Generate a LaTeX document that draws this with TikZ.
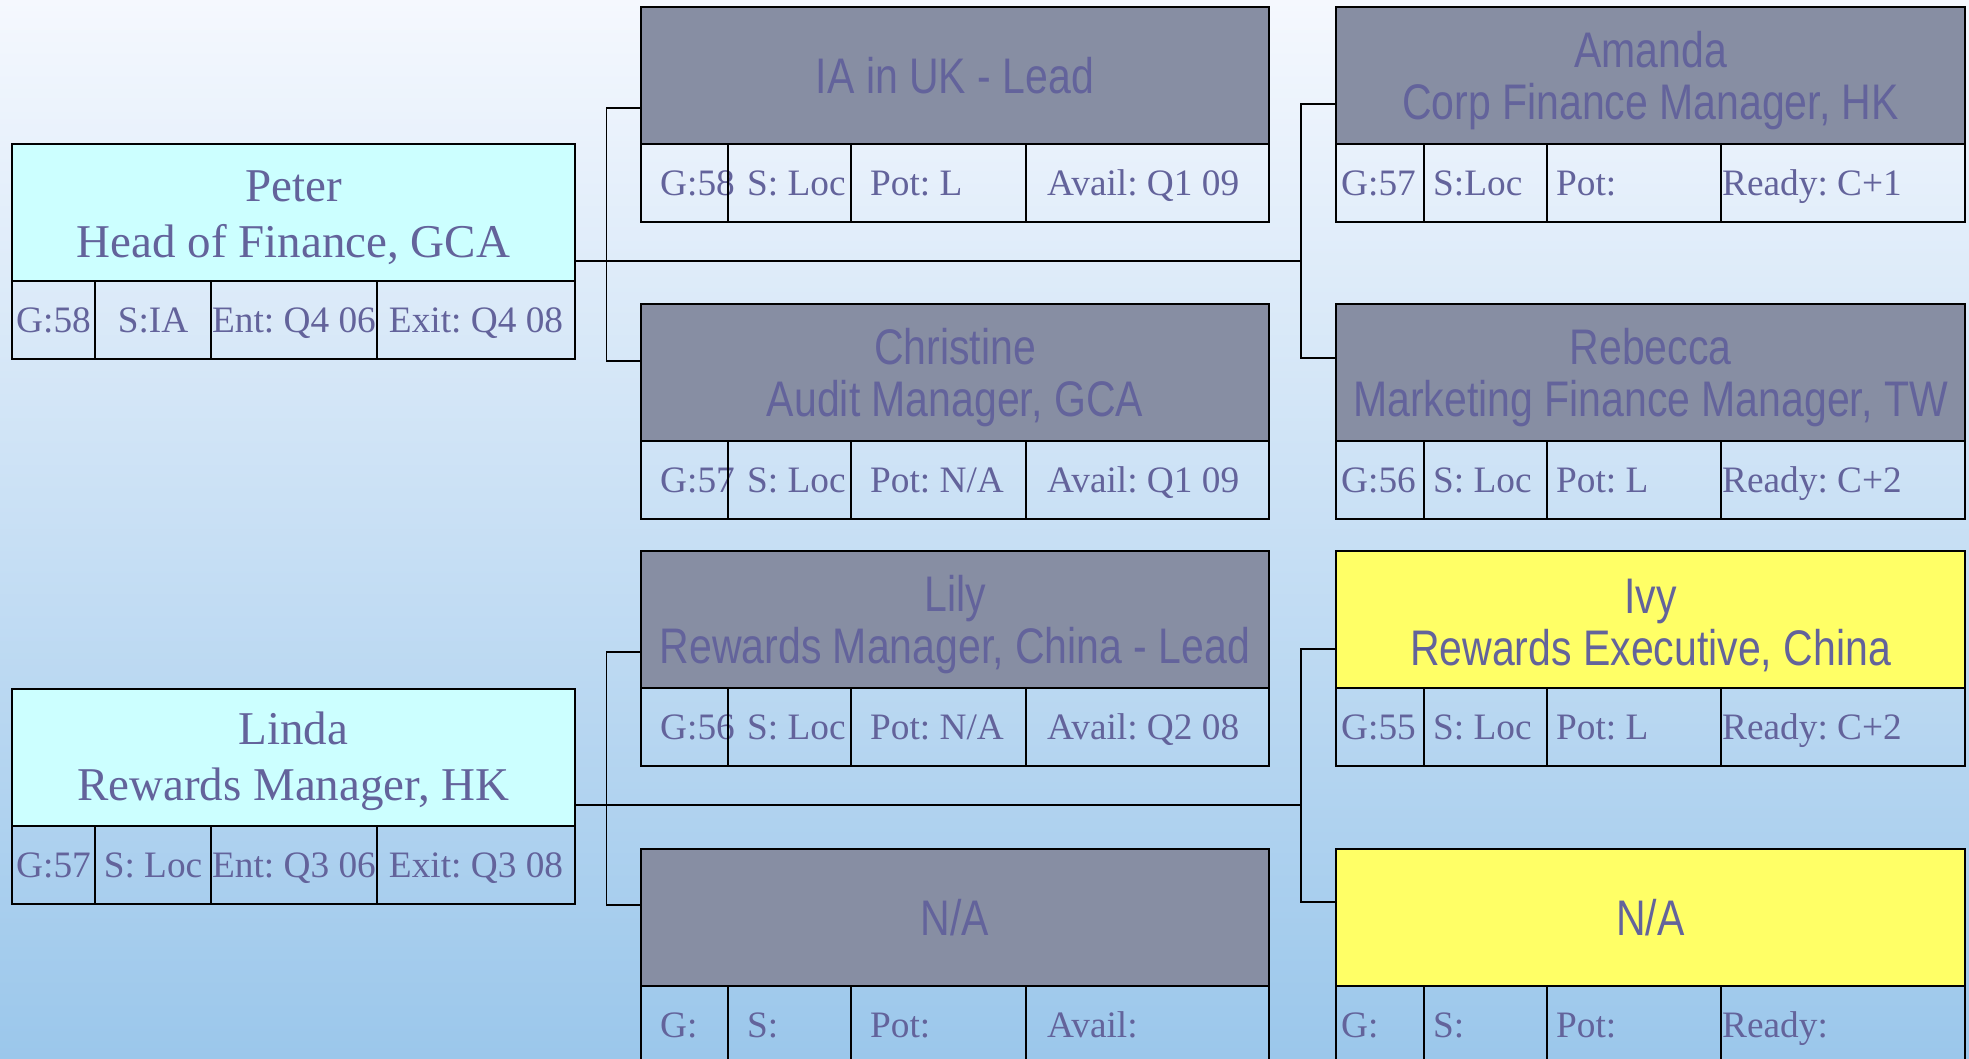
\documentclass[tikz,border=0pt]{standalone}
\usepackage{fontspec}
\setmainfont{Liberation Serif}
\newfontfamily\hsans[FakeStretch=0.82]{Liberation Sans}
\frenchspacing
\definecolor{txt}{RGB}{99,99,155}
\definecolor{bgtop}{RGB}{245,248,254}
\definecolor{bgbot}{RGB}{155,199,235}
\definecolor{cyanfill}{RGB}{204,255,255}
\definecolor{grayfill}{RGB}{135,142,163}
\definecolor{yellowfill}{RGB}{255,255,102}

\tikzset{
 hdr/.style={draw=black, line width=2pt, anchor=north west, inner sep=0pt, minimum height=137pt, align=center, text=txt},
 lefthdr/.style={hdr, fill=cyanfill, minimum width=563pt, font=\frenchspacing\fontsize{47}{56}\selectfont},
 midhdr/.style={hdr, minimum width=628pt, font=\frenchspacing\hsans\fontsize{50}{51.5}\selectfont},
 cellbox/.style={draw=black, line width=2pt, anchor=north west, inner sep=0pt, minimum height=78pt},
 celltxt/.style={text=txt, inner sep=0pt, font=\frenchspacing\fontsize{37.3}{44}\selectfont},
 conn/.style={draw=black, line width=1.6pt},
}
% raises the first of two header lines' box so the pair sits as in the reference
\newcommand\serifstrut{\rule{0pt}{41pt}}
\newcommand\sansstrut{\rule{0pt}{46pt}}

% centred cell: name, x, y, width, text
\newcommand\ccell[5]{%
  \node[cellbox, minimum width=#4pt] (#1) at (#2,#3) {};
  \node[celltxt, anchor=base] at ([yshift=-52pt]#1.north) {#5};}
% left-aligned cell: name, x, y, width, pad, text
\newcommand\lcell[6]{%
  \node[cellbox, minimum width=#4pt] (#1) at (#2,#3) {};
  \node[celltxt, anchor=base west] at ([xshift=#5pt, yshift=-52pt]#1.north west) {#6};}

% name, y, header, c1..c4
\newcommand\leftcard[7]{%
  \node[lefthdr] (#1) at (11,#2) {#3};
  \ccell{#1-1}{11}{#2+137}{83}{#4}
  \ccell{#1-2}{94}{#2+137}{116}{#5}
  \ccell{#1-3}{210}{#2+137}{166}{#6}
  \ccell{#1-4}{376}{#2+137}{198}{#7}}
% name, y, fill, header, c1..c4
\newcommand\midcard[8]{%
  \node[midhdr, fill=#3] (#1) at (640,#2) {#4};
  \lcell{#1-1}{640}{#2+137}{87}{20}{#5}
  \lcell{#1-2}{727}{#2+137}{123}{20}{#6}
  \lcell{#1-3}{850}{#2+137}{175}{20}{#7}
  \lcell{#1-4}{1025}{#2+137}{243}{22}{#8}}
\newcommand\rightcard[8]{%
  \node[midhdr, fill=#3, minimum width=629pt] (#1) at (1335,#2) {#4};
  \lcell{#1-1}{1335}{#2+137}{88}{6}{#5}
  \lcell{#1-2}{1423}{#2+137}{123}{10}{#6}
  \lcell{#1-3}{1546}{#2+137}{174}{10}{#7}
  \lcell{#1-4}{1720}{#2+137}{244}{2}{#8}}

\begin{document}
\begin{tikzpicture}[x=1pt, y=-1pt]
\useasboundingbox (0,0) rectangle (1969,1058);
\clip (0,0) rectangle (1969,1058);
\shade[top color=bgtop, bottom color=bgbot] (0,0) rectangle (1969,1058);

% connector junctions
\coordinate (pa) at (606.5,108);
\coordinate (pb) at (606.5,361);
\coordinate (pj) at (606.5,261);
\coordinate (pk) at (1301,261);
\coordinate (pc) at (1301,104);
\coordinate (pd) at (1301,358);
\coordinate (la) at (606.5,652);
\coordinate (lb) at (606.5,905);
\coordinate (lj) at (606.5,805);
\coordinate (lk) at (1301,805);
\coordinate (lc) at (1301,649);
\coordinate (ld) at (1301,902);

% left column
\leftcard{peter}{143}{\serifstrut Peter\\Head of Finance, GCA}{G:58}{S:IA}{Ent: Q4 06}{Exit: Q4 08}
\leftcard{linda}{688}{\serifstrut Linda\\Rewards Manager, HK}{G:57}{S: Loc}{Ent: Q3 06}{Exit: Q3 08}

% middle column
\midcard{ia}{6}{grayfill}{IA in UK - Lead}{G:58}{S: Loc}{Pot: L}{Avail: Q1 09}
\midcard{christine}{303}{grayfill}{\sansstrut Christine\\Audit Manager, GCA}{G:57}{S: Loc}{Pot: N/A}{Avail: Q1 09}
\midcard{lily}{550}{grayfill}{\sansstrut Lily\\Rewards Manager, China - Lead}{G:56}{S: Loc}{Pot: N/A}{Avail: Q2 08}
\midcard{na1}{848}{grayfill}{N/A}{G:}{S:}{Pot:}{Avail:}

% right column
\rightcard{amanda}{6}{grayfill}{\sansstrut Amanda\\Corp Finance Manager, HK}{G:57}{S:Loc}{Pot:}{Ready: C+1}
\rightcard{rebecca}{303}{grayfill}{\sansstrut Rebecca\\Marketing Finance Manager, TW}{G:56}{S: Loc}{Pot: L}{Ready: C+2}
\rightcard{ivy}{550}{yellowfill}{\sansstrut Ivy\\Rewards Executive, China}{G:55}{S: Loc}{Pot: L}{Ready: C+2}
\rightcard{na2}{848}{yellowfill}{N/A}{G:}{S:}{Pot:}{Ready:}

% Peter's connectors
\draw[conn] (peter.east |- pj) -- (pk);
\draw[conn] (ia.west |- pa) -- (pa) -- (pb) -- (christine.west |- pb);
\draw[conn] (amanda.west |- pc) -- (pc) -- (pd) -- (rebecca.west |- pd);
% Linda's connectors
\draw[conn] (linda.east |- lj) -- (lk);
\draw[conn] (lily.west |- la) -- (la) -- (lb) -- (na1.west |- lb);
\draw[conn] (ivy.west |- lc) -- (lc) -- (ld) -- (na2.west |- ld);
\end{tikzpicture}
\end{document}
